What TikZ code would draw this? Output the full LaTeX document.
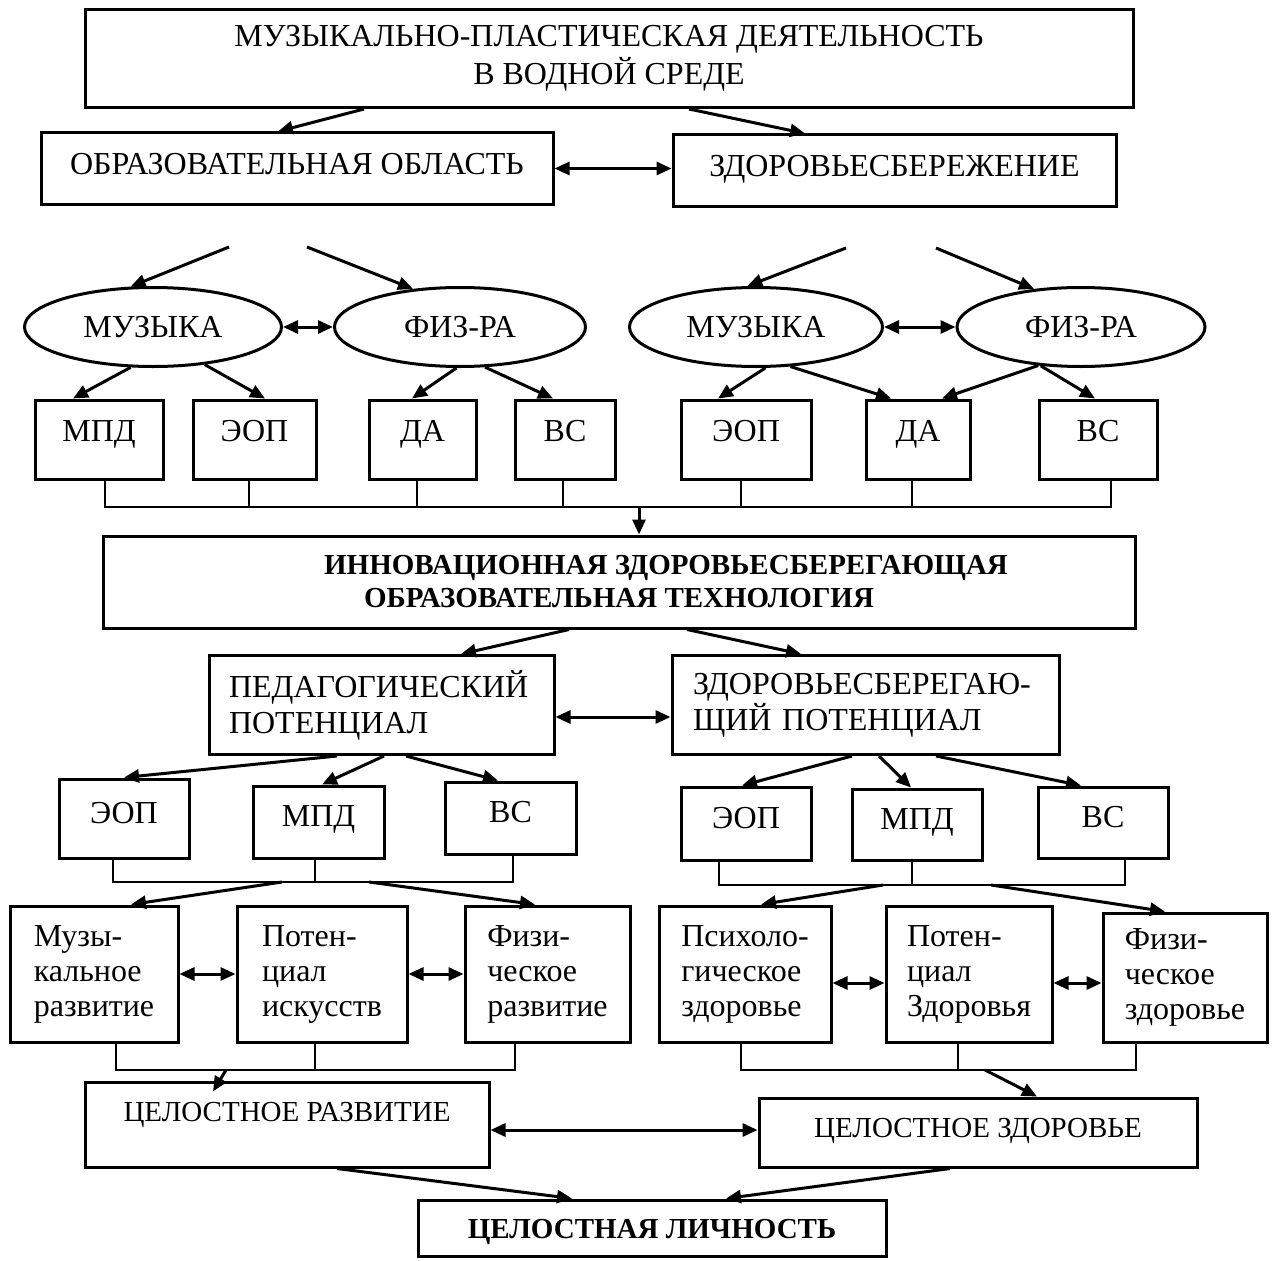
\documentclass[tikz,border=0pt]{standalone}
\usepackage{fontspec}
\setmainfont{Liberation Serif}
\usetikzlibrary{arrows.meta,shapes.geometric}

\begin{document}
\begin{tikzpicture}[x=1pt,y=-1pt,
    box/.style={draw,line width=3pt,inner sep=0pt,font=\fontsize{32}{37}\selectfont},
    wh/.style 2 args={minimum width=#1pt,minimum height=#2pt},
    one/.style={text height=25pt,text depth=#1},
    oval/.style={draw,ellipse,line width=3pt,inner sep=0pt,minimum height=79pt,
      font=\fontsize{32}{37}\selectfont,text height=25pt,text depth=4pt},
    arr/.style={line width=3pt,-{Triangle[length=15pt,width=13pt]}},
    darr/.style={line width=3pt,{Triangle[length=15pt,width=13pt]}-{Triangle[length=15pt,width=13pt]}},
    link/.style={line width=1.1pt}]
  \useasboundingbox (0,0) rectangle (1273,1260);

  \node[box,wh={1048}{98},align=center,font=\fontsize{32}{38}\selectfont] (top) at (609,58.5)
    {МУЗЫКАЛЬНО-ПЛАСТИЧЕСКАЯ ДЕЯТЕЛЬНОСТЬ\\В ВОДНОЙ СРЕДЕ};
  \node[box,one=12pt,wh={512}{71}] (obl) at (297,168.5) {ОБРАЗОВАТЕЛЬНАЯ ОБЛАСТЬ};
  \node[box,one=12pt,wh={443}{71}] (zb) at (894.5,170.5) {ЗДОРОВЬЕСБЕРЕЖЕНИЕ};
  \path[arr] ([xshift=-245pt]top.south) edge ([xshift=-19pt]obl.north)
    ([xshift=80pt]top.south) edge ([xshift=-89.5pt]zb.north);
  \draw[darr] (obl.east) -- (obl.east -| zb.west);

  \node[oval,minimum width=257pt] (mus1) at (153,327) {МУЗЫКА};
  \node[oval,minimum width=251pt] (fiz1) at (460,327) {ФИЗ-РА};
  \node[oval,minimum width=253pt] (mus2) at (756,327) {МУЗЫКА};
  \node[oval,minimum width=248pt] (fiz2) at (1081,327) {ФИЗ-РА};
  \coordinate (p1) at (229,247); \coordinate (p2) at (307,247);
  \coordinate (p3) at (846,248); \coordinate (p4) at (936,248);
  \path[arr] (p1) edge (mus1.119) (p2) edge (fiz1.141)
    (p3) edge (mus2.102) (p4) edge (fiz2.141);
  \draw[darr] (mus1) -- (fiz1);
  \draw[darr] (mus2) -- (fiz2);

  \foreach \n/\x/\w/\t in {b1/99/128/МПД,b2/254.5/123/ЭОП,b3/422.5/107/ДА,b4/565/100/ВС,
      b5/746/130/ЭОП,b6/918/104/ДА,b7/1098/118/ВС}
    \node[box,one=22pt,wh={\w}{79}] (\n) at (\x,439.5) {\t};
  \path[arr] (mus1.-119) edge ([xshift=-26pt]b1.north)
    (mus1.-36) edge ([xshift=10.5pt]b2.north)
    (fiz1.-95) edge ([xshift=-10.5pt]b3.north)
    (fiz1.-58) edge ([xshift=-12pt]b4.north)
    (mus2.-77) edge ([xshift=-28pt]b5.north)
    (mus2.-49) edge ([xshift=-27pt]b6.north)
    (fiz2.-138) edge ([xshift=24pt]b6.north)
    (fiz2.-136) edge ([xshift=-3pt]b7.north);

  \coordinate (j1) at (639,507);
  \draw[link] ([xshift=6pt]b1.south) |- (j1) -| ([xshift=13pt]b7.south);
  \foreach \n/\d in {b2/-5.5,b3/-5.5,b4/-2,b5/-5,b6/-6}
    \draw[link] ([xshift=\d pt]\n.south) -- ([xshift=\d pt]\n.south |- j1);

  \node[box,wh={1032}{92},align=center,font=\fontsize{29}{33}\selectfont\bfseries] (inno) at (619,582)
    {\hspace*{94pt}ИННОВАЦИОННАЯ ЗДОРОВЬЕСБЕРЕГАЮЩАЯ\\ОБРАЗОВАТЕЛЬНАЯ ТЕХНОЛОГИЯ};
  \draw[arr] (j1) -- (j1 |- inno.north);

  \node[box,wh={345}{99},align=left,inner xsep=20pt,text width=305pt,
    font=\fontsize{32}{36}\selectfont] (ped) at (381.5,705) {ПЕДАГОГИЧЕСКИЙ\\ПОТЕНЦИАЛ};
  \node[box,wh={387}{99},align=left,inner xsep=21pt,text width=345pt,
    font=\fontsize{32}{36}\selectfont] (zsp) at (865.5,705) {ЗДОРОВЬЕСБЕРЕГАЮ-\\ЩИЙ ПОТЕНЦИАЛ};
  \path[arr] ([xshift=-50pt]inno.south) edge ([xshift=79.5pt]ped.north)
    ([xshift=68pt]inno.south) edge ([xshift=-64.5pt]zsp.north);
  \draw[darr] ([yshift=-12pt]ped.east) -- ([yshift=-12pt]ped.east -| zsp.west);

  \node[box,one=16pt,wh={130}{79}] (c1) at (124,818.5) {ЭОП};
  \node[box,one=16pt,wh={131}{72}] (c2) at (318.5,822) {МПД};
  \node[box,one=16pt,wh={131}{72}] (c3) at (510.5,818) {ВС};
  \node[box,one=16pt,wh={130}{73}] (d1) at (746,823.5) {ЭОП};
  \node[box,one=16pt,wh={130}{71}] (d2) at (917,824.5) {МПД};
  \node[box,one=16pt,wh={130}{71}] (d3) at (1103,822.5) {ВС};
  \path[arr] ([xshift=-44.5pt]ped.south) edge (c1.north)
    ([xshift=2.5pt]ped.south) edge ([xshift=3.5pt]c2.north)
    ([xshift=24.5pt]ped.south) edge ([xshift=-12.5pt]c3.north)
    ([xshift=-13.5pt]zsp.south) edge ([xshift=-4pt]d1.north)
    ([xshift=13.5pt]zsp.south) edge ([xshift=-6pt]d2.north)
    ([xshift=70.5pt]zsp.south) edge ([xshift=-22pt]d3.north);

  \coordinate (j2) at (315,882);
  \coordinate (j3) at (912,885);
  \draw[link] ([xshift=-11pt]c1.south) |- (j2) -| ([xshift=2.5pt]c3.south);
  \draw[link] ([xshift=-3.5pt]c2.south) -- (j2);
  \draw[link] ([xshift=-27pt]d1.south) |- (j3) -| ([xshift=22pt]d3.south);
  \draw[link] ([xshift=-5pt]d2.south) -- (j3);

  \node[box,wh={168}{136},align=left,font=\fontsize{32}{35}\selectfont] (e1) at (94,974) {Музы-\\кальное\\развитие};
  \node[box,wh={170}{136},align=left,font=\fontsize{32}{35}\selectfont] (e2) at (322,974) {Потен-\\циал\\искусств};
  \node[box,wh={165}{136},align=left,font=\fontsize{32}{35}\selectfont] (e3) at (547.5,974) {Физи-\\ческое\\развитие};
  \node[box,wh={172}{136},align=left,font=\fontsize{32}{35}\selectfont] (f1) at (745,974) {Психоло-\\гическое\\здоровье};
  \node[box,wh={166}{136},align=left,font=\fontsize{32}{35}\selectfont] (f2) at (969,974) {Потен-\\циал\\Здоровья};
  \node[box,wh={164}{129},align=left,font=\fontsize{32}{35}\selectfont] (f3) at (1185,977.5) {Физи-\\ческое\\здоровье};
  \path[arr] ([xshift=-33pt]j2) edge ([xshift=37pt]e1.north)
    ([xshift=54pt]j2) edge ([xshift=-12.5pt]e3.north)
    ([xshift=-29pt]j3) edge ([xshift=16pt]f1.north)
    ([xshift=79pt]j3) edge ([xshift=-20pt]f3.north);
  \draw[darr] (e1) -- (e2);
  \draw[darr] (e2) -- (e3);
  \draw[darr] ([yshift=-9pt]f1.east) -- ([yshift=-9pt]f1.east -| f2.west);
  \draw[darr] ([yshift=-9pt]f2.east) -- ([yshift=-9pt]f2.east -| f3.west);

  \coordinate (j4) at (315,1070);
  \coordinate (j5) at (958,1070);
  \draw[link] ([xshift=22pt]e1.south) |- (j4) -| ([xshift=-32.5pt]e3.south);
  \draw[link] ([xshift=-7pt]e2.south) -- (j4);
  \draw[link] ([xshift=-4pt]f1.south) |- (j5) -| ([xshift=-49pt]f3.south);
  \draw[link] ([xshift=-11pt]f2.south) -- (j5);

  \node[box,one=31pt,wh={404}{85},font=\fontsize{29}{33}\selectfont] (cr) at (287,1124.5) {ЦЕЛОСТНОЕ РАЗВИТИЕ};
  \node[box,one=15pt,wh={438}{69},font=\fontsize{29}{33}\selectfont] (cz) at (978,1132.5) {ЦЕЛОСТНОЕ ЗДОРОВЬЕ};
  \node[box,one=5pt,wh={468}{56},font=\fontsize{29}{33}\selectfont\bfseries] (cl) at (652,1228) {ЦЕЛОСТНАЯ ЛИЧНОСТЬ};
  \path[arr] ([xshift=-89pt]j4) edge ([xshift=-74pt,yshift=-11pt]cr.north)
    ([xshift=27pt]j5) edge ([xshift=59pt]cz.north);
  \draw[darr] ([yshift=-5.5pt]cr.east) -- ([yshift=-5.5pt]cr.east -| cz.west);
  \path[arr] ([xshift=50pt]cr.south) edge ([xshift=-80pt]cl.north)
    ([xshift=-28pt]cz.south) edge ([xshift=74pt]cl.north);
\end{tikzpicture}
\end{document}
